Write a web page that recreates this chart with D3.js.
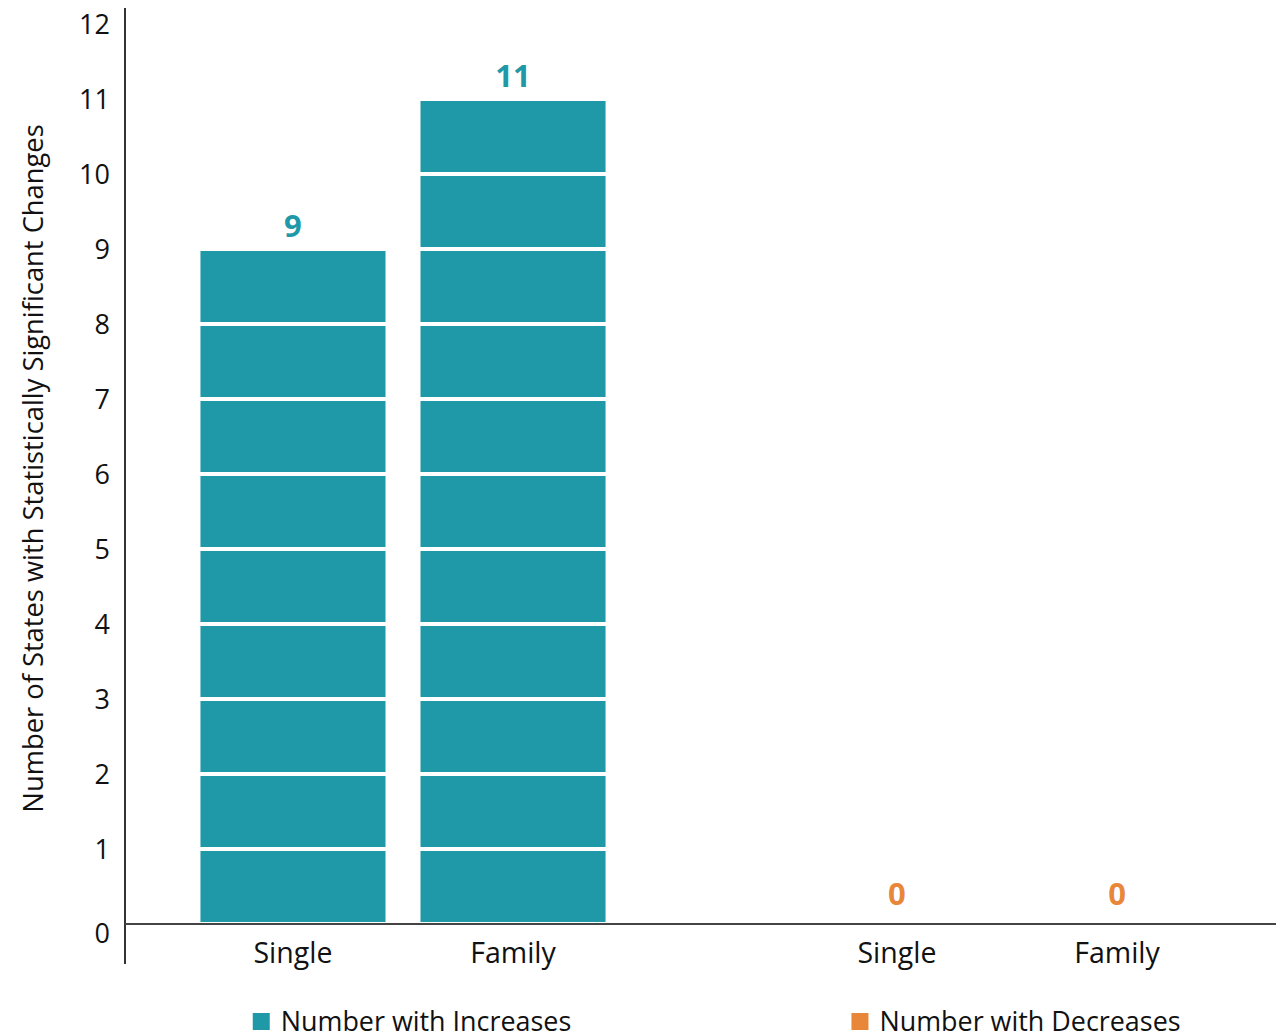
<!DOCTYPE html>
<html>
<head>
<meta charset="utf-8">
<script src="https://cdn.jsdelivr.net/npm/d3@7"></script>
<style>
  html, body { margin: 0; padding: 0; background: #fff; }
  svg { display: block; font-family: "Open Sans", Lato, sans-serif; }
</style>
</head>
<body>
<svg id="chart" width="1279" height="1034"></svg>
<script>
// ---- data ----
const groups = ["Number with Increases", "Number with Decreases"];
const categories = ["Single", "Family"];
const increases = [9, 11];
const decreases = [0, 0];
const yTickValues = [0, 1, 2, 3, 4, 5, 6, 7, 8, 9, 10, 11, 12];
const yTitle = "Number of States with Statistically Significant Changes";

const colors = ["#1f99a8", "#e8873a"];
const seriesValues = [increases, decreases];

// ---- layout ----
const svg = d3.select("#chart");
const axisX = 125, baseY = 924;

const y = d3.scaleLinear().domain([0, 12]).range([baseY, 24]);
const xOuter = d3.scaleBand().domain(groups).range([101, 1309]).padding(0);
const xInner = d3.scaleBand().domain(categories).range([0, xOuter.bandwidth()])
  .paddingInner(0.159).paddingOuter(0.452);

const gap = 2; // half of white separator

// bars: stacked unit segments
groups.forEach((g, gi) => {
  const gx = xOuter(g);
  categories.forEach((c, ci) => {
    const v = seriesValues[gi][ci];
    const x0 = gx + xInner(c);
    svg.append("g").selectAll("rect")
      .data(d3.range(v))
      .join("rect")
      .attr("x", x0)
      .attr("width", xInner.bandwidth())
      .attr("y", i => y(i + 1) + gap)
      .attr("height", i => y(i) - y(i + 1) - 2 * gap)
      .attr("fill", colors[gi]);
    // value label
    svg.append("text")
      .attr("x", x0 + xInner.bandwidth() / 2)
      .attr("y", y(v) - (v === 0 ? 19 : 12))
      .attr("text-anchor", "middle")
      .attr("font-size", 31)
      .attr("font-weight", "bold")
      .attr("fill", colors[gi])
      .text(v);
    // category label
    svg.append("text")
      .attr("x", x0 + xInner.bandwidth() / 2)
      .attr("y", 963)
      .attr("text-anchor", "middle")
      .attr("font-size", 28.5)
      .attr("fill", "#111")
      .text(c);
  });
});

// y axis labels
const yAxis = d3.axisLeft(y).tickValues(yTickValues).tickSize(0).tickPadding(15);
const ya = svg.append("g").attr("transform", `translate(${axisX},0)`).call(yAxis);
ya.select(".domain").remove();
ya.selectAll("text")
  .attr("font-size", 27)
  .attr("font-family", "'Open Sans', Lato, sans-serif")
  .attr("fill", "#111")
  .attr("dy", d => d === 0 ? "0.68em" : "0.35em");

// axis lines
svg.append("line")
  .attr("x1", axisX).attr("x2", axisX)
  .attr("y1", 8).attr("y2", 964)
  .attr("stroke", "#333").attr("stroke-width", 2);
svg.append("line")
  .attr("x1", axisX).attr("x2", 1276)
  .attr("y1", baseY).attr("y2", baseY)
  .attr("stroke", "#444").attr("stroke-width", 2);

// y title
svg.append("text")
  .attr("transform", `translate(43,${(125 + 812) / 2}) rotate(-90)`)
  .attr("text-anchor", "middle")
  .attr("font-size", 27.3)
  .attr("fill", "#111")
  .text(yTitle);

// legend
groups.forEach((g, gi) => {
  const center = xOuter(g) + xOuter.bandwidth() / 2 + 9;
  const item = svg.append("g");
  const t = item.append("text")
    .attr("x", 28).attr("y", 1031)
    .attr("font-size", 26.9)
    .attr("fill", "#111")
    .text(g);
  const w = 28 + t.node().getComputedTextLength();
  item.append("rect")
    .attr("x", 0).attr("y", 1013)
    .attr("width", 17).attr("height", 17)
    .attr("fill", colors[gi]);
  item.attr("transform", `translate(${center - w / 2},0)`);
});
</script>
</body>
</html>
